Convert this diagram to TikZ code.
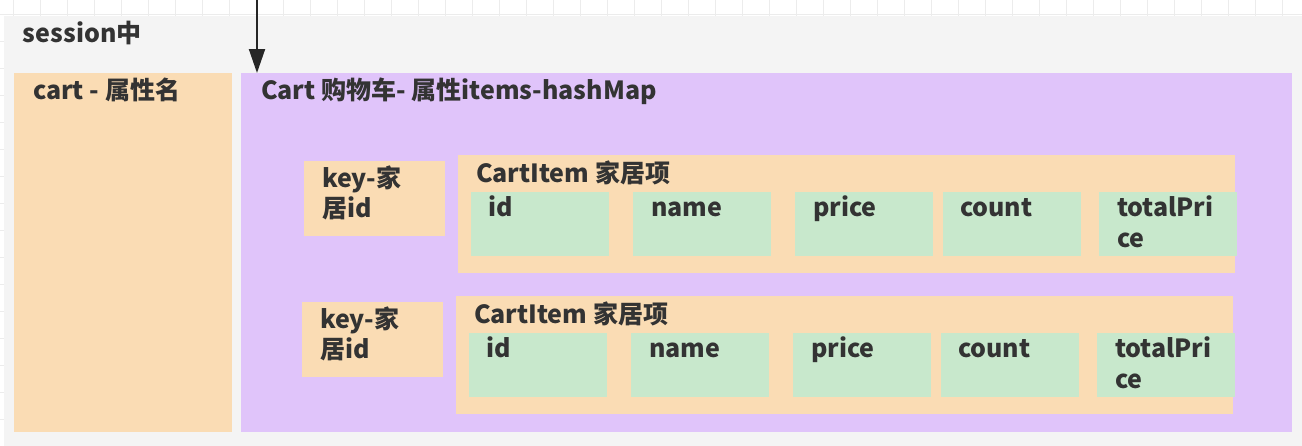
\documentclass[tikz,border=0pt]{standalone}
\usepackage{fontspec}
\setmainfont{Noto Sans CJK SC}
\usetikzlibrary{arrows.meta}
\definecolor{sessgray}{RGB}{244,244,244}
\definecolor{peachc}{RGB}{250,220,180}
\definecolor{purplec}{RGB}{224,196,250}
\definecolor{greenc}{RGB}{200,232,204}
\definecolor{gridc}{RGB}{236,236,236}
\definecolor{txt}{RGB}{51,51,51}
\begin{document}
\begin{tikzpicture}[x=1pt,y=-1pt,
  box/.style={draw=none, rectangle, inner sep=0pt, outer sep=0pt, anchor=north west},
  peach/.style={box, fill=peachc},
  purplebox/.style={box, fill=purplec},
  greenbox/.style={box, fill=greenc, minimum width=138, minimum height=64},
  lbl/.style={anchor=base west, inner sep=0pt, outer sep=0pt, text=txt, font=\bfseries\fontsize{25}{30}\selectfont},
  arr/.style={-{Triangle[length=24pt,width=16pt]}, line width=2pt, draw=black!85}
]
\useasboundingbox (0,0) rectangle (1302,445);
\fill[white] (0,0) rectangle (1302,445);
% background grid
\foreach \gx in {13,40,...,1302} \draw[gridc, line width=1pt] (\gx,0) -- (\gx,445);
\foreach \gy in {14,41,...,445} \draw[gridc, line width=1pt] (0,\gy) -- (1302,\gy);
% session box
\node[box, fill=sessgray, minimum width=1310, minimum height=440] (session) at (4,16) {};
\node[lbl] (sesstxt) at (23,42) {session中};
% cart attribute name
\node[peach, minimum width=218, minimum height=359] (cartname) at (14,73) {};
\node[lbl] (cartnametxt) at (33,99) {cart - 属性名};
% Cart purple box
\node[purplebox, minimum width=1051, minimum height=359] (cart) at (241,73) {};
\node[lbl] (carttxt) at (261,99) {Cart 购物车- 属性items-hashMap};
% arrow
\coordinate (src) at (257,0);
\draw[arr] (src) -- (src |- cart.north);
% rows
\foreach \r/\dx/\dy in {1/0/0, 2/-2/141}{
  \node[peach, minimum width=141, minimum height=75] (key\r) at (304+\dx,161+\dy) {};
  \node[lbl] (keya\r) at (322+\dx,187+\dy) {key-家};
  \node[lbl] (keyb\r) at (322+\dx,217+\dy) {居id};
  \node[peach, minimum width=777, minimum height=118] (item\r) at (458+\dx,155+\dy) {};
  \node[lbl] (itemtxt\r) at (476+\dx,182+\dy) {CartItem 家居项};
  \node[greenbox] (id\r) at (471+\dx,192+\dy) {};
  \node[lbl] (idt\r) at (488+\dx,216+\dy) {id};
  \node[greenbox] (name\r) at (633+\dx,192+\dy) {};
  \node[lbl] (namet\r) at (651+\dx,216+\dy) {name};
  \node[greenbox] (price\r) at (795+\dx,192+\dy) {};
  \node[lbl] (pricet\r) at (813+\dx,216+\dy) {price};
  \node[greenbox] (count\r) at (943+\dx,192+\dy) {};
  \node[lbl] (countt\r) at (960+\dx,216+\dy) {count};
  \node[greenbox] (total\r) at (1099+\dx,192+\dy) {};
  \node[lbl] (totalta\r) at (1117+\dx,216+\dy) {totalPri};
  \node[lbl] (totaltb\r) at (1117+\dx,247+\dy) {ce};
}
\end{tikzpicture}
\end{document}
